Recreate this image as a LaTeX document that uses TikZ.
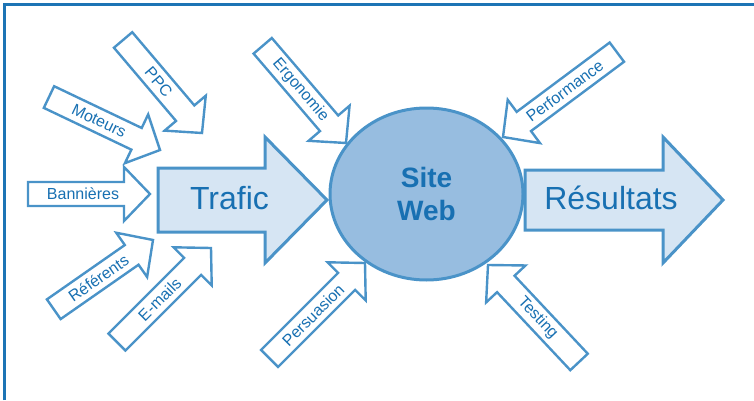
\documentclass[tikz,border=0pt]{standalone}
\usepackage{fontspec}
\setmainfont{Liberation Sans}
\usepackage{xcolor}
\usetikzlibrary{shapes.geometric}

\definecolor{frameblue}{HTML}{1C74B5}
\definecolor{lineblue}{HTML}{4A93C8}
\definecolor{textblue}{HTML}{1870B2}
\definecolor{paleblue}{HTML}{D6E5F3}
\definecolor{siteblue}{HTML}{97BDE0}

\tikzset{
  outline/.style={draw=lineblue, line width=2.4pt, line join=miter},
  bigtxt/.style={text=textblue, font=\fontsize{32}{32}\selectfont, inner sep=0pt, anchor=base},
  smalltxt/.style={text=textblue, font=\fontsize{16}{16}\selectfont, inner sep=0pt, transform shape},
  %% small white arrow: tip at the origin, pointing along x, #1 = length
  pics/inarrow/.style n args={3}{code={
    \draw[outline, fill=white] (0,0) -- (-26,27) -- (-26,12) -- (-#1,12)
      -- (-#1,-12) -- (-26,-12) -- (-26,-27) -- cycle;
    \node[smalltxt, #3] (-label) at ({-(#1+26)/2+7},0) {#2};
  }}
}

\begin{document}
\begin{tikzpicture}[x=1pt, y=1pt]
\useasboundingbox (0,0) rectangle (754,400);
%% frame, cut off at the right and at the bottom
\draw[frameblue, line width=3pt] (4.5,0) -- (4.5,395.5) -- (754,395.5);

%% the two big arrows
\draw[outline, line width=3pt, fill=paleblue] (158,232) -- (265,232) -- (265,263) -- (327,200)
  -- (265,137) -- (265,168) -- (158,168) -- cycle;
\node[bigtxt] (trafic) at (229.5,191) {Trafic};
\draw[outline, line width=3pt, fill=paleblue] (525,230) -- (663,230) -- (663,263) -- (723,200)
  -- (663,137) -- (663,170) -- (525,170) -- cycle;
\node[bigtxt] (resultats) at (611,191) {Résultats};

%% the site in the middle
\node[ellipse, draw=lineblue, line width=3pt, fill=siteblue, minimum width=193pt, minimum height=172pt,
  inner sep=0pt, align=center, text=textblue, font=\fontsize{28}{33}\selectfont\bfseries]
  (site) at (426.5,206) {Site\\Web};

%% what brings the traffic
\pic (bannieres) at (150,206) {inarrow={122}{Bannières}{}};
\pic[rotate=-25.5] (moteurs) at (160,250) {inarrow={123}{Moteurs}{}};
\pic[rotate=-49.7] (ppc) at (202,267) {inarrow={122}{PPC}{}};
\pic[rotate=34.9] (referents) at (153,160) {inarrow={121}{Référents}{}};
\pic[rotate=45] (emails) at (211,152) {inarrow={133}{E-mails}{}};

%% what acts on the site
\pic[rotate=-49.4] (ergonomie) at (346,257) {inarrow={128}{Ergonomie}{}};
\pic[rotate=45] (persuasion) at (365,137) {inarrow={135}{Persuasion}{}};
\pic[rotate=216.7] (performance) at (503,263) {inarrow={142}{Performance}{rotate=180}};
\pic[rotate=133.2] (testing) at (488,135) {inarrow={133}{Testing}{rotate=180}};
\end{tikzpicture}
\end{document}
